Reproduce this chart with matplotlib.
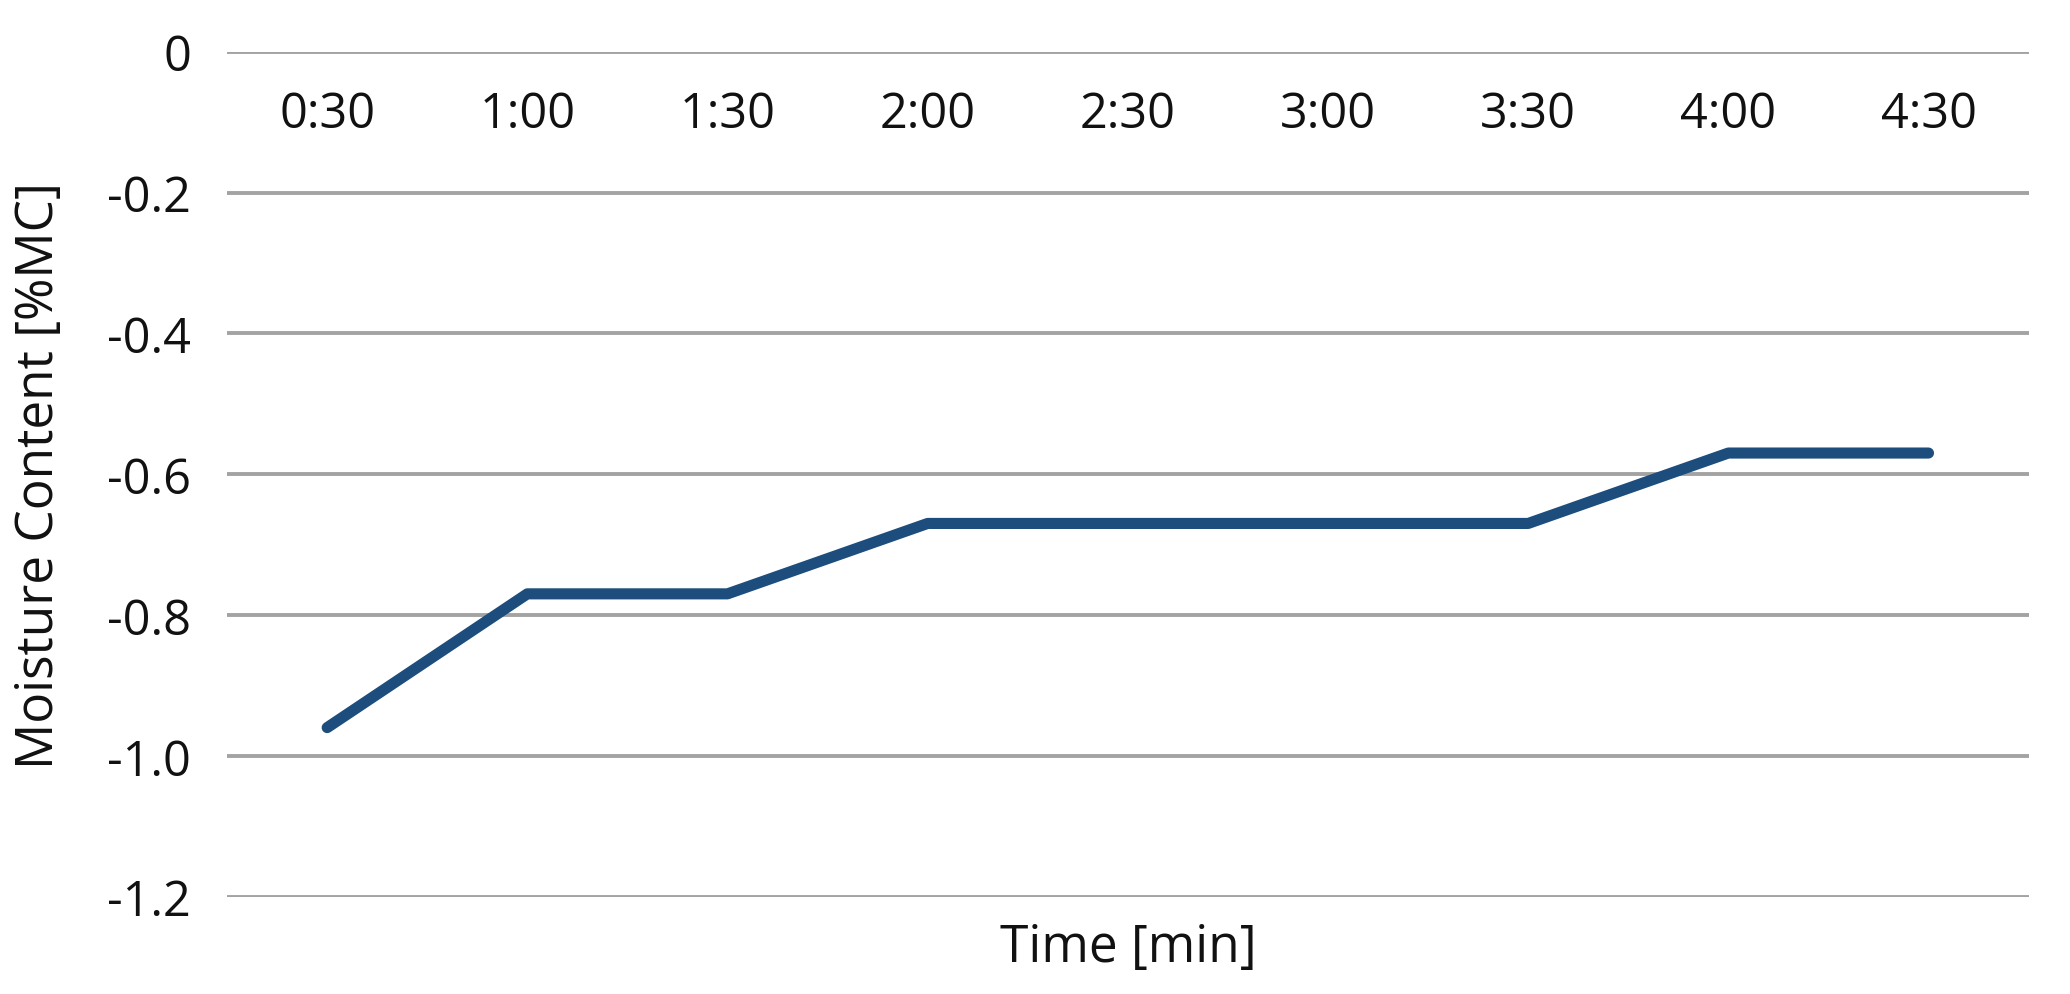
import matplotlib
matplotlib.use("Agg")
import matplotlib.pyplot as plt

# Data
time_labels = ["0:30", "1:00", "1:30", "2:00", "2:30", "3:00", "3:30", "4:00", "4:30"]
moisture = [-0.96, -0.77, -0.77, -0.67, -0.67, -0.67, -0.67, -0.57, -0.57]
y_ticks = [0, -0.2, -0.4, -0.6, -0.8, -1.0, -1.2]
y_tick_labels = ["0", "-0.2", "-0.4", "-0.6", "-0.8", "-1.0", "-1.2"]

plt.rcParams['font.family'] = ['Open Sans', 'DejaVu Sans']

fig = plt.figure(figsize=(20.7, 9.95), dpi=100)
ax = fig.add_axes([0.1097, 0.0979, 0.8703, 0.8491])

x = list(range(len(time_labels)))
ax.plot(x, moisture, color='#1d4d7d', linewidth=8, solid_capstyle='round',
        solid_joinstyle='round', zorder=3)

ax.set_xlim(-0.5, len(time_labels) - 0.5)
ax.set_ylim(-1.2, 0)
ax.set_yticks(y_ticks)
ax.set_yticklabels(y_tick_labels)
ax.yaxis.grid(True, color='#a3a3a3', linewidth=2.8)
ax.set_axisbelow(True)

text_color = '#111111'
ax.set_xticks(x)
ax.set_xticklabels(time_labels)
ax.tick_params(axis='x', top=True, labeltop=True, bottom=False, labelbottom=False,
               length=0, pad=-45, labelsize=35, labelcolor=text_color)
for lbl in ax.get_xticklabels():
    lbl.set_va('center')
ax.tick_params(axis='y', length=0, pad=26, labelsize=35, labelcolor=text_color)

for s in ax.spines.values():
    s.set_visible(False)

ax.set_ylabel("Moisture Content [%MC]", fontsize=37, color=text_color, va='center')
ax.yaxis.set_label_coords(-0.104, 0.5)
ax.set_xlabel("Time [min]", fontsize=37, color=text_color, va='center')
ax.xaxis.set_label_coords(0.5, -0.06)

fig.savefig("out.png", dpi=100, facecolor='white')
